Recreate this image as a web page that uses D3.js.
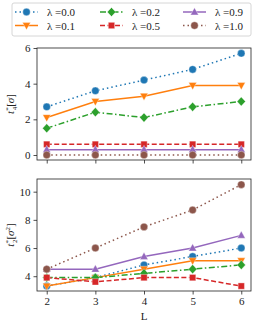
<!DOCTYPE html>
<html>
<head>
<meta charset="utf-8">
<script src="https://cdn.jsdelivr.net/npm/d3@7"></script>
<style>
  body { margin: 0; background: #fff; }
  svg text { font-family: "Liberation Serif", "DejaVu Serif", serif; fill: #222; }
</style>
</head>
<body>
<div id="chart"></div>
<script>
// Data
var Ls = [2, 3, 4, 5, 6];
var lambdas = ["0.0", "0.1", "0.2", "0.5", "0.9", "1.0"];
var topVals = {
  "0.0": [2.7, 3.6, 4.2, 4.8, 5.7],
  "0.1": [2.1, 3.0, 3.3, 3.9, 3.9],
  "0.2": [1.5, 2.4, 2.1, 2.7, 3.0],
  "0.5": [0.6, 0.6, 0.6, 0.6, 0.6],
  "0.9": [0.3, 0.3, 0.3, 0.3, 0.3],
  "1.0": [0.0, 0.0, 0.0, 0.0, 0.0]
};
var botVals = {
  "0.0": [3.3, 3.9, 4.8, 5.4, 6.0],
  "0.1": [3.3, 3.9, 4.5, 5.1, 5.1],
  "0.2": [3.9, 3.9, 4.2, 4.5, 4.8],
  "0.5": [3.9, 3.6, 3.9, 3.9, 3.3],
  "0.9": [4.5, 4.5, 5.4, 6.0, 6.9],
  "1.0": [4.5, 6.0, 7.5, 8.7, 10.5]
};
var topTicks = [0, 2, 4, 6];
var botTicks = [4, 6, 8, 10];

// styles per series
var colors = ["#1f77b4", "#ff7f0e", "#2ca02c", "#d62728", "#9467bd", "#8c564b"];
var dashes = ["1.5,3", null, "6,2.5,1.5,2.5", "5,2.5", null, "1.5,3"];
var markers = ["circle", "tridown", "diamond", "square", "triup", "circle"];

var W = 258, H = 326;
var svg = d3.select("#chart").append("svg").attr("width", W).attr("height", H);

var x = d3.scaleLinear().domain([1.8, 6.2]).range([37, 251]);

function markerPath(type){
  if(type === "circle") return d3.symbol().type(d3.symbolCircle).size(44)();
  if(type === "square") return d3.symbol().type(d3.symbolSquare).size(40)();
  if(type === "diamond") return "M0,-4.6L4.2,0L0,4.6L-4.2,0Z";
  if(type === "triup") return "M0,-4.3L4,2.9L-4,2.9Z";
  if(type === "tridown") return "M0,4.3L4,-2.9L-4,-2.9Z";
}

function panel(vals, ydom, yrange, ticks, showX){
  var y = d3.scaleLinear().domain(ydom).range(yrange);
  var g = svg.append("g");

  lambdas.forEach(function(lam, i){
    var line = d3.line().x(function(d, j){ return x(Ls[j]); }).y(function(d){ return y(d); });
    g.append("path")
      .attr("d", line(vals[lam]))
      .attr("fill", "none")
      .attr("stroke", colors[i])
      .attr("stroke-width", 1.5)
      .attr("stroke-dasharray", dashes[i]);
    g.selectAll(null).data(vals[lam]).enter().append("path")
      .attr("d", markerPath(markers[i]))
      .attr("transform", function(d, j){ return "translate(" + x(Ls[j]) + "," + y(d) + ")"; })
      .attr("fill", colors[i])
      .attr("stroke", "#fff")
      .attr("stroke-opacity", 0.5)
      .attr("stroke-width", 0.7);
  });

  var yax = svg.append("g").attr("transform", "translate(37,0)")
    .call(d3.axisLeft(y).tickValues(ticks).tickSize(3.5).tickPadding(3).tickFormat(d3.format("d")));
  var xax = svg.append("g").attr("transform", "translate(0," + yrange[0] + ")")
    .call(d3.axisBottom(x).tickValues(Ls).tickSize(3.5).tickPadding(3)
      .tickFormat(showX ? d3.format("d") : function(){ return ""; }));
  [yax, xax].forEach(function(a){
    a.select(".domain").remove();
    a.selectAll("line").attr("stroke", "#222").attr("stroke-width", 0.8);
    a.selectAll("text").attr("font-size", 11).attr("font-family", "Liberation Serif, serif").attr("fill", "#222");
  });
  svg.append("rect")
    .attr("x", 37).attr("y", yrange[1])
    .attr("width", 214).attr("height", yrange[0] - yrange[1])
    .attr("fill", "none").attr("stroke", "#222").attr("stroke-width", 0.8);
}

panel(topVals, [-0.28, 6.0], [160, 48], topTicks, false);
panel(botVals, [2.95, 10.9], [291, 179], botTicks, true);

// y labels
function ylabel(cy, sub, unitSup){
  var t = svg.append("text")
    .attr("transform", "translate(14," + cy + ") rotate(-90)")
    .attr("text-anchor", "middle")
    .attr("font-size", 11);
  t.append("tspan").attr("font-style", "italic").text("t");
  t.append("tspan").attr("font-size", 7).attr("dy", -4).text("*");
  t.append("tspan").attr("font-size", 7).attr("dx", -3).attr("dy", 7).text(sub);
  t.append("tspan").attr("dy", -3).text("[");
  t.append("tspan").attr("font-style", "italic").text("σ");
  if(unitSup){
    t.append("tspan").attr("font-size", 7).attr("dy", -4).text(unitSup);
    t.append("tspan").attr("dy", 4).text("]");
  } else {
    t.append("tspan").text("]");
  }
}
ylabel(104, "4", null);
ylabel(235, "2", "2");

svg.append("text").attr("x", 144).attr("y", 320).attr("text-anchor", "middle")
  .attr("font-size", 11).text("L");

// legend
var leg = svg.append("g");
leg.append("rect").attr("x", 12).attr("y", 3).attr("width", 239).attr("height", 33).attr("rx", 2)
  .attr("fill", "#fff").attr("stroke", "#ccc").attr("stroke-width", 0.8);
var colX = [15, 100, 183];
var rowY = [12, 25.5];
lambdas.forEach(function(lam, i){
  var cx = colX[Math.floor(i / 2)], cy = rowY[i % 2];
  leg.append("line").attr("x1", cx).attr("x2", cx + 23).attr("y1", cy).attr("y2", cy)
    .attr("stroke", colors[i]).attr("stroke-width", 1.5).attr("stroke-dasharray", dashes[i]);
  leg.append("path").attr("d", markerPath(markers[i]))
    .attr("transform", "translate(" + (cx + 11.5) + "," + cy + ")")
    .attr("fill", colors[i]).attr("stroke", "#fff").attr("stroke-opacity", 0.5).attr("stroke-width", 0.7);
  leg.append("text").attr("x", cx + 32).attr("y", cy + 4).attr("font-size", 11)
    .text("λ =" + lam);
});
</script>
</body>
</html>
